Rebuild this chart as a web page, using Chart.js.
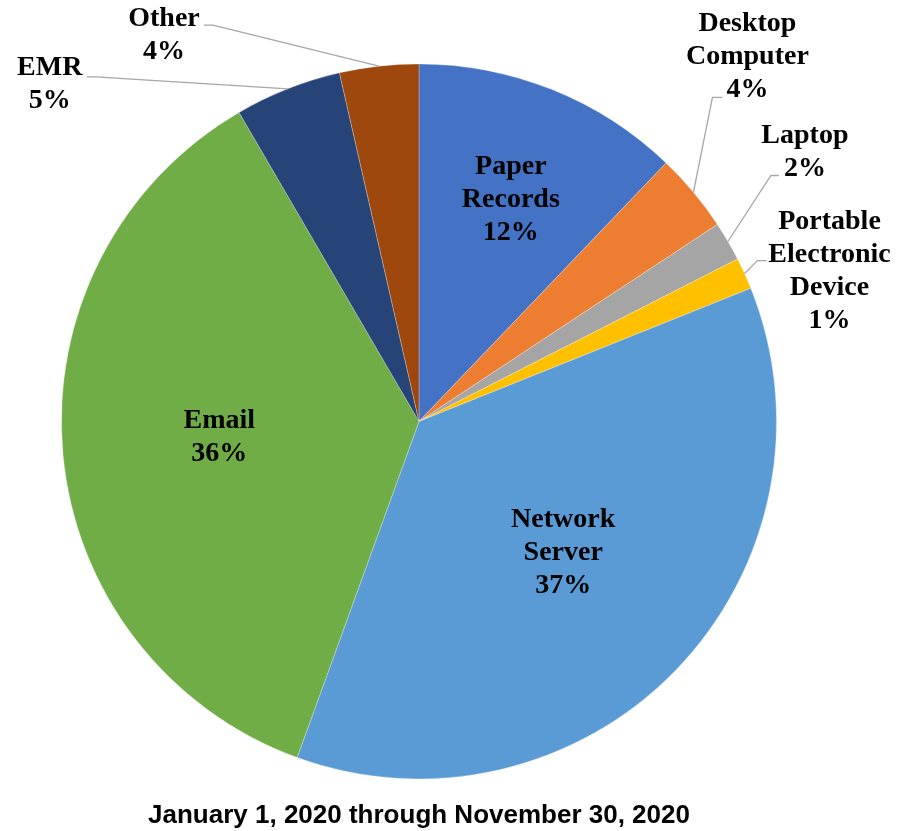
<!DOCTYPE html>
<html>
<head>
<meta charset="utf-8">
<script src="https://cdn.jsdelivr.net/npm/chart.js@4/dist/chart.umd.min.js"></script>
<style>
  html, body { margin: 0; padding: 0; background: #ffffff; }
  canvas { display: block; }
</style>
</head>
<body>
<canvas id="chart" width="913" height="831"></canvas>
<script>
// Breaches by location, clockwise from 12 o'clock
const categories = ["Paper Records", "Desktop Computer", "Laptop", "Portable Electronic Device",
                    "Network Server", "Email", "EMR", "Other"];
const breachCounts = [68, 20, 10, 8, 205, 202, 27, 20];
const sliceColors = ["#4472C4", "#ED7D31", "#A5A5A5", "#FFC000",
                     "#5B9BD5", "#70AD47", "#264478", "#9E480E"];
const periodTitle = "January 1, 2020 through November 30, 2020";

// Label placement (pixels). Inside labels: offset from the point at 0.6·R on the
// slice's mid-angle. Outside labels: leader runs from the rim to a bend point,
// then horizontally to the text; all offsets are relative to the rim point.
const labelLayout = [
  { inside: true, dx: 12, dy: -24 },
  { bend: [19, -95], end: [29, -95], text: [54, -137] },
  { bend: [43, -66], end: [51, -66], text: [77, -91] },
  { bend: [13, -13], end: [22, -13], text: [85, -4] },
  { inside: true, dx: -10, dy: -20 },
  { inside: true, dx: 14, dy: -5 },
  { bend: [-192, -12], end: [-201, -12], text: [-238, -6] },
  { bend: [-166, -41], end: [-175, -41], text: [-215, -33] }
];

const LABEL_FONT = "bold 28px 'Liberation Serif', 'Times New Roman', serif";
const LINE_STEP = 33;

function drawBlock(ctx, lines, cx, cy) {
  ctx.font = LABEL_FONT;
  ctx.fillStyle = "#000000";
  ctx.textAlign = "center";
  ctx.textBaseline = "alphabetic";
  const n = lines.length;
  lines.forEach((ln, i) => {
    const y = cy + 9 + (i - (n - 1) / 2) * LINE_STEP;
    ctx.fillText(ln, cx, y);
  });
}

const sliceLabels = {
  id: "sliceLabels",
  afterDatasetsDraw(chart) {
    const ctx = chart.ctx;
    const meta = chart.getDatasetMeta(0);
    const data = chart.data.datasets[0].data;
    const total = data.reduce((a, b) => a + b, 0);
    ctx.save();
    meta.data.forEach((arc, i) => {
      const p = arc.getProps(["x", "y", "startAngle", "endAngle", "outerRadius"], true);
      const mid = (p.startAngle + p.endAngle) / 2;
      const pct = Math.round(data[i] / total * 100) + "%";
      const lines = chart.data.labels[i].split(" ").concat([pct]);
      const cfg = labelLayout[i];
      if (cfg.inside) {
        const r = p.outerRadius * 0.6;
        const cx = p.x + Math.cos(mid) * r + cfg.dx;
        const cy = p.y + Math.sin(mid) * r + cfg.dy;
        drawBlock(ctx, lines, cx, cy);
      } else {
        const ex = p.x + Math.cos(mid) * p.outerRadius;
        const ey = p.y + Math.sin(mid) * p.outerRadius;
        ctx.strokeStyle = "#A6A6A6";
        ctx.lineWidth = 1.3;
        ctx.beginPath();
        ctx.moveTo(ex, ey);
        ctx.lineTo(ex + cfg.bend[0], ey + cfg.bend[1]);
        ctx.lineTo(ex + cfg.end[0], ey + cfg.end[1]);
        ctx.stroke();
        drawBlock(ctx, lines, ex + cfg.text[0], ey + cfg.text[1]);
      }
    });
    ctx.restore();
  }
};

new Chart(document.getElementById("chart"), {
  type: "pie",
  data: {
    labels: categories,
    datasets: [{
      data: breachCounts,
      backgroundColor: sliceColors,
      borderColor: "rgba(255,255,255,0.25)",
      borderWidth: 1
    }]
  },
  options: {
    responsive: false,
    animation: false,
    layout: { padding: { left: 61, right: 136, top: 63, bottom: 0 } },
    plugins: {
      legend: { display: false },
      tooltip: { enabled: false },
      title: {
        display: true,
        position: "bottom",
        text: periodTitle,
        color: "#000000",
        font: { family: "'Liberation Sans', Arial, sans-serif", size: 26, weight: "bold", lineHeight: 1.2 },
        padding: { top: 20, bottom: 0 }
      }
    }
  },
  plugins: [sliceLabels]
});
</script>
</body>
</html>
